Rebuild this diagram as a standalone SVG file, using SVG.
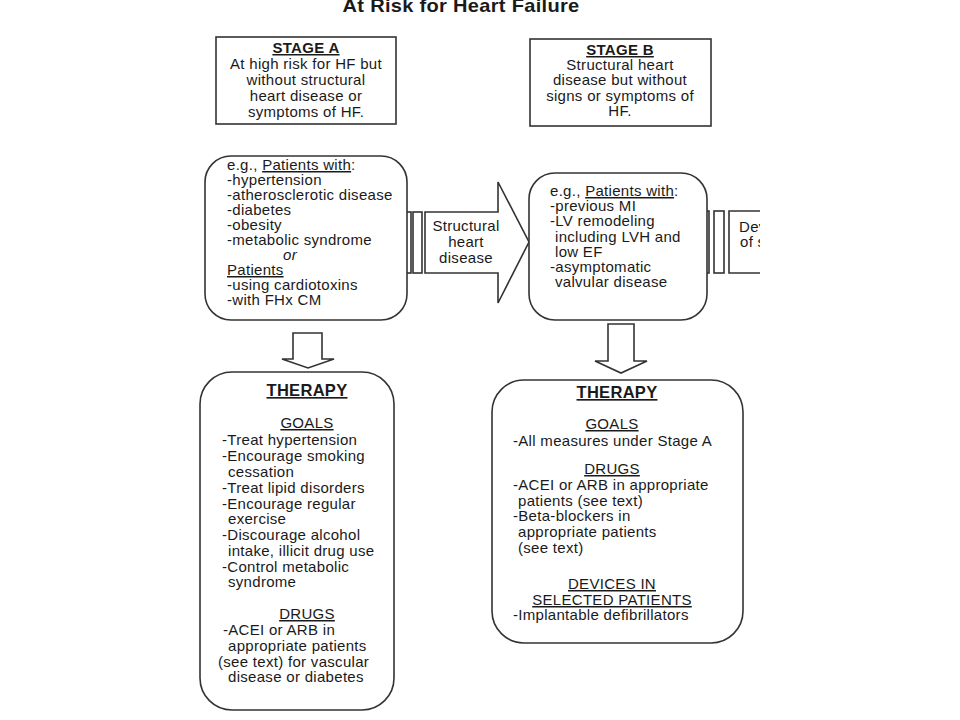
<svg xmlns="http://www.w3.org/2000/svg" width="960" height="720" viewBox="0 0 960 720">
<style>
text{font-family:"Liberation Sans",Arial,sans-serif;fill:#1a1a1a;font-size:15px;letter-spacing:0.3px}
.b{font-weight:bold}
.c{text-anchor:middle}
.u{text-decoration:underline}
.t{font-size:16.5px}
.box{fill:#fff;stroke:#333;stroke-width:1.6}
</style>
<defs><clipPath id="cut"><rect x="0" y="0" width="760" height="720"/></clipPath></defs>
<rect width="960" height="720" fill="#fff"/>
<text x="461" y="12" class="b c" style="font-size:19px" textLength="237" lengthAdjust="spacingAndGlyphs">At Risk for Heart Failure</text>

<g id="stageA">
<rect class="box" x="216" y="37" width="180" height="87"/>
<text x="306" y="53" class="b c u">STAGE A</text>
<text x="306" y="69" class="c">At high risk for HF but</text>
<text x="306" y="85" class="c">without structural</text>
<text x="306" y="101" class="c">heart disease or</text>
<text x="306" y="117" class="c">symptoms of HF.</text>
</g>

<g id="stageB">
<rect class="box" x="530" y="39" width="181" height="87"/>
<text x="620" y="55" class="b c u">STAGE B</text>
<text x="620" y="70" class="c">Structural heart</text>
<text x="620" y="85" class="c">disease but without</text>
<text x="620" y="101" class="c">signs or  symptoms of</text>
<text x="620" y="116" class="c">HF.</text>
</g>

<g id="connectors">
<rect class="box" x="406" y="212" width="5" height="61"/>
<rect class="box" x="413" y="212" width="9" height="61"/>
<path class="box" d="M425,212 H498 V182 L529,242 L498,303 V273 H425 Z"/>
<rect class="box" x="704" y="211" width="5" height="62"/>
<rect class="box" x="714" y="211" width="10" height="62"/>
<path class="box" d="M293,333 H322 V359 H334 L308,368 L282,359 H293 Z"/>
<path class="box" d="M608,324 H634 V361 H647 L621,373 L595,361 H608 Z"/>
</g>

<g id="arrowLabel">
<text x="466" y="231" class="c">Structural</text>
<text x="466" y="247" class="c">heart</text>
<text x="466" y="263" class="c">disease</text>
</g>

<g id="patientsA">
<rect class="box" x="205" y="156" width="202" height="164" rx="26"/>
<text x="227" y="170">e.g., <tspan class="u">Patients with</tspan>:</text>
<text x="227" y="185">-hypertension</text>
<text x="227" y="200">-atherosclerotic disease</text>
<text x="227" y="215">-diabetes</text>
<text x="227" y="230">-obesity</text>
<text x="227" y="245">-metabolic syndrome</text>
<text x="283" y="260" font-style="italic">or</text>
<text x="227" y="275" class="u">Patients</text>
<text x="227" y="290">-using cardiotoxins</text>
<text x="227" y="305">-with FHx CM</text>
</g>

<g id="patientsB">
<rect class="box" x="529" y="173" width="178" height="147" rx="26"/>
<text x="550" y="196">e.g., <tspan class="u">Patients with</tspan>:</text>
<text x="550" y="211">-previous MI</text>
<text x="550" y="226">-LV remodeling</text>
<text x="555" y="242">including LVH and</text>
<text x="555" y="257">low EF</text>
<text x="550" y="272">-asymptomatic</text>
<text x="555" y="287">valvular disease</text>
</g>

<g id="stageC" clip-path="url(#cut)">
<path d="M762,211 H729 V273 H762" fill="#fff" stroke="#333" stroke-width="1.6"/>
<text x="739" y="232">Development</text>
<text x="740" y="247">of symptoms</text>
</g>

<g id="therapyA">
<rect class="box" x="200" y="372" width="194" height="338" rx="32"/>
<text x="307" y="396" class="b c u t">THERAPY</text>
<text x="307" y="428" class="c u">GOALS</text>
<text x="222" y="445">-Treat hypertension</text>
<text x="222" y="461">-Encourage smoking</text>
<text x="228" y="477">cessation</text>
<text x="222" y="493">-Treat lipid disorders</text>
<text x="222" y="509">-Encourage regular</text>
<text x="228" y="524">exercise</text>
<text x="222" y="540">-Discourage alcohol</text>
<text x="228" y="556">intake, illicit drug use</text>
<text x="222" y="572">-Control metabolic</text>
<text x="228" y="587">syndrome</text>
<text x="307" y="619" class="c u">DRUGS</text>
<text x="223" y="635">-ACEI or ARB in</text>
<text x="228" y="651">appropriate patients</text>
<text x="218" y="667">(see text) for vascular</text>
<text x="228" y="682">disease or diabetes</text>
</g>

<g id="therapyB">
<rect class="box" x="492" y="380" width="251" height="263" rx="32"/>
<text x="617" y="398" class="b c u t">THERAPY</text>
<text x="612" y="429" class="c u">GOALS</text>
<text x="513" y="446">-All measures under Stage A</text>
<text x="612" y="474" class="c u">DRUGS</text>
<text x="513" y="490">-ACEI or ARB in appropriate</text>
<text x="518" y="506">patients (see text)</text>
<text x="513" y="521">-Beta-blockers in</text>
<text x="518" y="537">appropriate patients</text>
<text x="518" y="553">(see text)</text>
<text x="612" y="589" class="c u">DEVICES IN</text>
<text x="612" y="605" class="c u">SELECTED PATIENTS</text>
<text x="513" y="620">-Implantable defibrillators</text>
</g>
</svg>
